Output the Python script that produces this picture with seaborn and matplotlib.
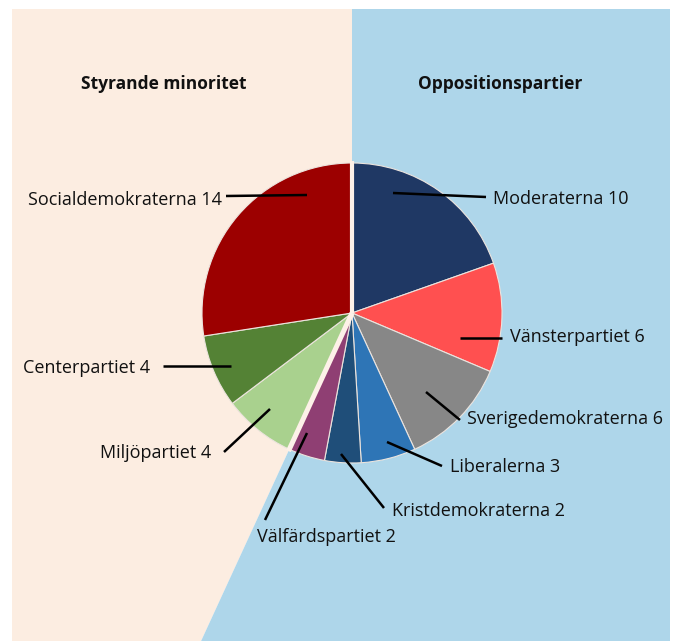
import numpy as np
import matplotlib
matplotlib.use("Agg")
import matplotlib.pyplot as plt
from matplotlib.patches import Polygon
import seaborn as sns

# mandat per parti, medurs från klockan tolv
partier = ['Moderaterna', 'Vänsterpartiet', 'Sverigedemokraterna', 'Liberalerna',
           'Kristdemokraterna', 'Välfärdspartiet', 'Miljöpartiet', 'Centerpartiet',
           'Socialdemokraterna']
mandat = [10, 6, 6, 3, 2, 2, 4, 4, 14]
styrande = [False, False, False, False, False, False, True, True, True]
farger = ['#1f3864', '#ff5050', '#878787', '#2e75b6', '#1f4e79',
          '#8f3f73', '#a9d18e', '#548235', '#9c0000']
rubriker = ['Styrande minoritet', 'Oppositionspartier']

sns.set_theme(style='white')
plt.rcParams['font.family'] = ['Open Sans', 'DejaVu Sans']

W, H = 675, 641
fig = plt.figure(figsize=(W / 100, H / 100), dpi=100)
ax = fig.add_axes([0, 0, 1, 1])


def py(y):
    # pixel-y (uppifrån) -> data-y
    return H - y


cx, cy, r = 352, py(313), 150
beige, bla = '#fcede1', '#aed6ea'

# gräns mellan blocken följer tårtan
opp = sum(m for m, s in zip(mandat, styrande) if not s) / sum(mandat)
a = np.deg2rad(opp * 360)
dx, dy = np.sin(a), np.cos(a)
t = cy / -dy
xb = cx + dx * t
top, left, right = py(9), 12, 670

ax.add_patch(Polygon([(left, 0), (left, top), (cx, top), (cx, cy), (xb, 0)],
                     closed=True, fc=beige, ec='none', zorder=0))
ax.add_patch(Polygon([(cx, top), (right, top), (right, 0), (xb, 0), (cx, cy)],
                     closed=True, fc=bla, ec='none', zorder=0))

ax.pie(mandat, colors=farger, startangle=90, counterclock=False,
       center=(cx, cy), radius=r,
       wedgeprops=dict(edgecolor='#ece4de', linewidth=0.8))

# glipor mellan blocken
ax.plot([cx, cx], [cy, cy + r + 2], color='#fdf1e8', lw=3, zorder=3,
        solid_capstyle='butt')
ax.plot([cx, cx + dx * (r + 2)], [cy, cy + dy * (r + 2)], color='#fdf1e8',
        lw=3.6, zorder=3, solid_capstyle='butt')

ax.set_xlim(0, W)
ax.set_ylim(0, H)
ax.axis('off')

# etiketter: ledarlinje (start, slut) och textplats i pixlar
ledare = [((393, 193), (486, 197)), ((460, 338), (502, 338)),
          ((426, 392), (460, 420)), ((387, 442), (442, 466)),
          ((341, 454), (384, 508)), ((307, 433), (265, 520)),
          ((270, 409), (224, 452)), ((231, 366), (163, 366)),
          ((307, 195), (226, 196))]
textpos = [(493, 199, 'left'), (510, 337, 'left'), (467, 419, 'left'),
           (450, 467, 'left'), (392, 511, 'left'), (257, 537, 'left'),
           (211, 453, 'right'), (150, 368, 'right'), (222, 200, 'right')]

for namn, m, (p0, p1), (tx, ty, ha) in zip(partier, mandat, ledare, textpos):
    ax.plot([p0[0], p1[0]], [py(p0[1]), py(p1[1])], color='black', lw=1.8,
            zorder=4, solid_capstyle='butt')
    ax.text(tx, py(ty), f'{namn} {m}', ha=ha, va='center', fontsize=13,
            color='#111111', zorder=5)

ax.text(164, py(84), rubriker[0], ha='center', va='center', fontsize=12.5,
        fontweight='bold', color='#111111')
ax.text(500, py(84), rubriker[1], ha='center', va='center', fontsize=12.5,
        fontweight='bold', color='#111111')

fig.savefig('out.png', dpi=100, facecolor='white')
